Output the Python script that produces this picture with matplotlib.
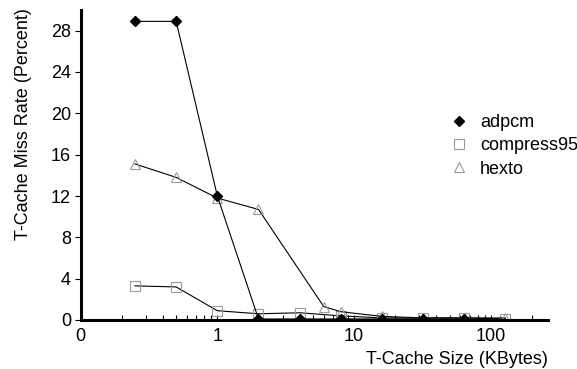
import numpy as np
import matplotlib
matplotlib.use('Agg')
import matplotlib.pyplot as plt
from matplotlib.lines import Line2D
from matplotlib.ticker import FixedLocator, LogLocator, NullFormatter, FuncFormatter

plt.rcParams['font.family'] = ['Liberation Sans', 'DejaVu Sans']
plt.rcParams['font.size'] = 13

# cache sizes in KBytes
size_adpcm = [0.25, 0.5, 1, 2, 4, 8, 16, 32, 64]
miss_adpcm = [28.9, 28.9, 12.0, 0.1, 0.1, 0.1, 0.1, 0.1, 0.1]

size_compress = [0.25, 0.5, 1, 2, 4, 8, 16, 32, 64, 128]
miss_compress = [3.3, 3.2, 0.9, 0.6, 0.7, 0.4, 0.2, 0.2, 0.2, 0.1]

size_hexto = [0.25, 0.5, 1, 2, 6, 8, 16, 32, 64, 128]
miss_hexto = [15.1, 13.8, 11.8, 10.7, 1.3, 0.8, 0.35, 0.2, 0.2, 0.2]

y_ticks = [0, 4, 8, 12, 16, 20, 24, 28]

W, H = 577, 369
fig = plt.figure(figsize=(W / 100, H / 100), dpi=100)
ax = fig.add_axes([80.6 / W, 1 - 320 / H, (548 - 80.6) / W, 310 / H])

gray = '#9a9a9a'
sq = dict(marker='s', ms=7.5, mfc='none', mec=gray, mew=0.8)
tri = dict(marker='^', ms=7.2, mfc='none', mec=gray, mew=0.8)
dia = dict(marker='D', ms=4.8, mfc='black', mec='black')

ax.plot(size_compress, miss_compress, color='black', lw=0.8, zorder=2, **sq)
ax.plot(size_hexto, miss_hexto, color='black', lw=0.8, zorder=2, **tri)
ax.plot(size_adpcm, miss_adpcm, color='black', lw=0.8, zorder=3, **dia)

ax.set_xscale('log')
ax.set_xlim(0.1, 262)
ax.set_ylim(0, 30)
ax.yaxis.set_major_locator(FixedLocator(y_ticks))
ax.xaxis.set_major_locator(FixedLocator([0.1, 1, 10, 100]))
ax.xaxis.set_major_formatter(FuncFormatter(lambda v, p: '%d' % int(v)))
ax.xaxis.set_minor_locator(LogLocator(base=10, subs=np.arange(2, 10)))
ax.xaxis.set_minor_formatter(NullFormatter())

for s in ['top', 'right']:
    ax.spines[s].set_visible(False)
for s in ['left', 'bottom']:
    ax.spines[s].set_linewidth(2.2)

ax.tick_params(axis='y', direction='out', length=4, width=0.8, pad=3, labelsize=13)
ax.tick_params(axis='x', which='both', direction='in', length=3.5, width=0.8, pad=6, labelsize=13)

# legend, markers only
handles = [
    Line2D([], [], ls='none', **dia),
    Line2D([], [], ls='none', **sq),
    Line2D([], [], ls='none', **tri),
]
fig.legend(handles, ['adpcm', 'compress95', 'hexto'], loc='upper left',
           bbox_to_anchor=(441 / W, 1 - 105 / H), frameon=False, borderpad=0,
           handlelength=1.0, handletextpad=0.65, labelspacing=0.35, fontsize=13)

fig.text(548 / W, 1 - 360 / H, 'T-Cache Size (KBytes)', ha='right', va='center', fontsize=13)
fig.text(23.5 / W, 1 - 124 / H, 'T-Cache Miss Rate (Percent)', ha='center', va='center',
         rotation=90, fontsize=13)

fig.savefig('out.png', dpi=100)
